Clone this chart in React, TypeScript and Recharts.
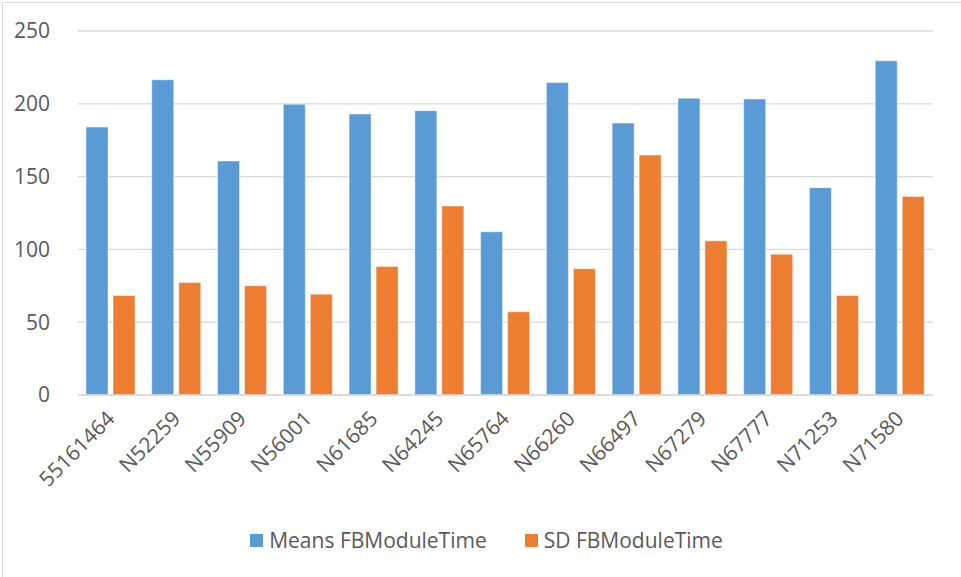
import { BarChart, Bar, XAxis, YAxis, CartesianGrid, Legend } from 'recharts';

const categories = [
  '55161464', 'N52259', 'N55909', 'N56001', 'N61685', 'N64245', 'N65764',
  'N66260', 'N66497', 'N67279', 'N67777', 'N71253', 'N71580',
];
const meansValues = [184, 216.5, 160.7, 199.7, 193, 195.3, 112.1, 214.6, 186.8, 203.8, 203.3, 142.4, 229.5];
const sdValues = [68.3, 77.3, 75, 69.2, 88.3, 129.8, 57.1, 86.7, 164.8, 105.9, 96.7, 68.3, 136.4];
const yTicks = [0, 50, 100, 150, 200, 250];

const data = categories.map((name, i) => ({
  name,
  'Means FBModuleTime': meansValues[i],
  'SD FBModuleTime': sdValues[i],
}));

const BLUE = '#5B9BD5';
const ORANGE = '#ED7D31';
const TEXT = '#595959';
const FONT = '"Open Sans", sans-serif';

const AngledTick = (props: any) => {
  const { x, y, payload } = props;
  const ax = x + 5;
  const ay = y + 25;
  return (
    <text
      x={ax}
      y={ay}
      textAnchor="end"
      fill={TEXT}
      fontSize={21}
      fontFamily={FONT}
      transform={`rotate(-45, ${ax}, ${ay})`}
    >
      {payload.value}
    </text>
  );
};

const LegendContent = () => (
  <div
    style={{
      display: 'flex',
      justifyContent: 'center',
      alignItems: 'center',
      height: 30,
      fontFamily: FONT,
      fontSize: 21,
      color: TEXT,
      paddingLeft: 40,
    }}
  >
    {[
      { label: 'Means FBModuleTime', color: BLUE },
      { label: 'SD FBModuleTime', color: ORANGE },
    ].map((item, i) => (
      <div key={item.label} style={{ display: 'flex', alignItems: 'center', marginLeft: i ? 38 : 0 }}>
        <span style={{ width: 13, height: 13, background: item.color, display: 'inline-block', marginRight: 6 }} />
        <span>{item.label}</span>
      </div>
    ))}
  </div>
);

export default function App() {
  return (
    <div style={{ position: 'absolute', left: 0, top: 0, width: 961, height: 577, background: '#fff', overflow: 'hidden' }}>
      <div
        style={{
          position: 'absolute',
          left: 2,
          top: 2,
          width: 1000,
          height: 600,
          borderLeft: '1px solid #d9d9d9',
          borderTop: '1px solid #d9d9d9',
        }}
      />
      <BarChart
        width={961}
        height={577}
        data={data}
        margin={{ top: 31, right: 28, left: 0, bottom: 0 }}
        barSize={22}
        barGap={5}
        style={{ position: 'absolute', left: 0, top: 0 }}
      >
        <CartesianGrid vertical={false} stroke="#d9d9d9" strokeWidth={1.3} />
        <XAxis
          dataKey="name"
          height={152}
          interval={0}
          axisLine={{ stroke: '#d9d9d9', strokeWidth: 1.3 }}
          tickLine={false}
          tickSize={0}
          tickMargin={0}
          tick={<AngledTick />}
        />
        <YAxis
          width={78}
          domain={[0, 250]}
          ticks={yTicks}
          axisLine={false}
          tickLine={false}
          tickMargin={22}
          tick={{ fill: TEXT, fontSize: 21, fontFamily: FONT }}
        />
        <Legend verticalAlign="bottom" content={<LegendContent />} wrapperStyle={{ bottom: 22 }} />
        <Bar dataKey="Means FBModuleTime" fill={BLUE} stroke="#ffffff" strokeOpacity={0.45} strokeWidth={1} isAnimationActive={false} />
        <Bar dataKey="SD FBModuleTime" fill={ORANGE} stroke="#ffffff" strokeOpacity={0.45} strokeWidth={1} isAnimationActive={false} />
      </BarChart>
    </div>
  );
}
